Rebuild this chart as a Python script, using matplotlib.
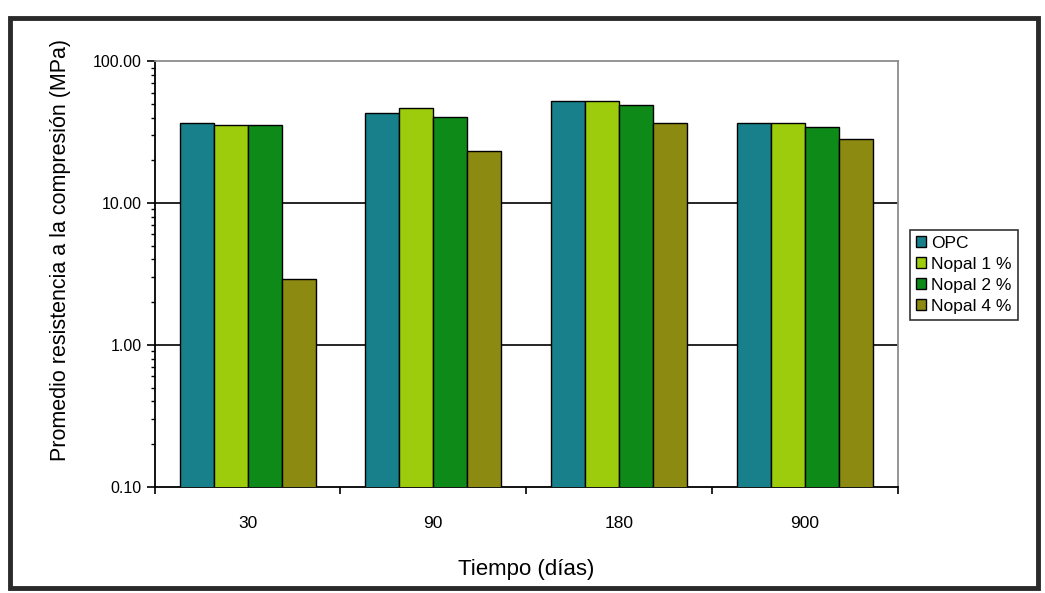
import numpy as np
import matplotlib.pyplot as plt
from matplotlib.ticker import FixedLocator, FixedFormatter, LogLocator, NullFormatter
from matplotlib.patches import Rectangle

plt.rcParams['font.family'] = ['Liberation Sans', 'DejaVu Sans']

# datos (MPa)
tiempos = ['30', '90', '180', '900']
series = ['OPC', 'Nopal 1 %', 'Nopal 2 %', 'Nopal 4 %']
opc = [36.8, 43.3, 52.3, 36.8]
nopal1 = [35.3, 46.7, 52.3, 36.8]
nopal2 = [35.7, 40.1, 48.7, 34.4]
nopal4 = [2.9, 23.4, 36.8, 28.2]
colores = ['#17808a', '#9ccc0c', '#0e8a18', '#8c8a10']

fig = plt.figure(figsize=(10.45, 5.93), dpi=100)
ax = fig.add_axes([0.148, 0.179, 0.711, 0.718])

x = np.arange(len(tiempos))
w = 0.183
valores = [opc, nopal1, nopal2, nopal4]
for i, (nombre, vals) in enumerate(zip(series, valores)):
    ax.bar(x + (i - 1.5) * w, vals, width=w, color=colores[i], edgecolor='black',
           linewidth=1.0, label=nombre, zorder=3)

ax.set_yscale('log')
ax.set_ylim(0.1, 100)
ax.set_xlim(-0.5, len(tiempos) - 0.5)

# líneas de división principales
for yv in [1, 10]:
    ax.axhline(yv, color='black', linewidth=1.2, zorder=1)

ax.yaxis.set_major_locator(FixedLocator([0.1, 1, 10, 100]))
ax.yaxis.set_major_formatter(FixedFormatter(['0.10', '1.00', '10.00', '100.00']))
ax.yaxis.set_minor_locator(LogLocator(base=10, subs=np.arange(2, 10)))
ax.yaxis.set_minor_formatter(NullFormatter())
ax.tick_params(axis='y', which='major', length=6, width=1.2, labelsize=11.5, direction='out')
ax.tick_params(axis='y', which='minor', length=3, width=1.0, direction='out')

# marcas entre categorías, etiquetas centradas
ax.xaxis.set_major_locator(FixedLocator(np.arange(-0.5, len(tiempos))))
ax.xaxis.set_major_formatter(NullFormatter())
ax.xaxis.set_minor_locator(FixedLocator(x))
ax.xaxis.set_minor_formatter(FixedFormatter(tiempos))
ax.tick_params(axis='x', which='major', length=5, width=1.2, direction='out')
ax.tick_params(axis='x', which='minor', length=0, labelsize=12.5, pad=21)

for s in ['left', 'bottom']:
    ax.spines[s].set_color('black')
    ax.spines[s].set_linewidth(1.3)
for s in ['top', 'right']:
    ax.spines[s].set_color('#8c8c8c')
    ax.spines[s].set_linewidth(1.3)

ax.set_xlabel('Tiempo (días)', fontsize=16, labelpad=20)
ax.set_ylabel('Promedio resistencia a la compresión (MPa)', fontsize=15.5)
ax.yaxis.set_label_coords(-0.113, 0.556)

leg = ax.legend(loc='center left', bbox_to_anchor=(1.016, 0.498), fontsize=12.5,
                frameon=True, fancybox=False, edgecolor='black', handlelength=0.6,
                handleheight=0.6, handletextpad=0.3, borderpad=0.35, labelspacing=0.35,
                borderaxespad=0.0)
leg.get_frame().set_linewidth(1.2)

# marco exterior del gráfico
fig.patches.append(Rectangle((0.01, 0.008), 0.983, 0.962, transform=fig.transFigure,
                             fill=False, edgecolor='#2a2a2a', linewidth=3.5))

fig.savefig('out.png', dpi=100)
